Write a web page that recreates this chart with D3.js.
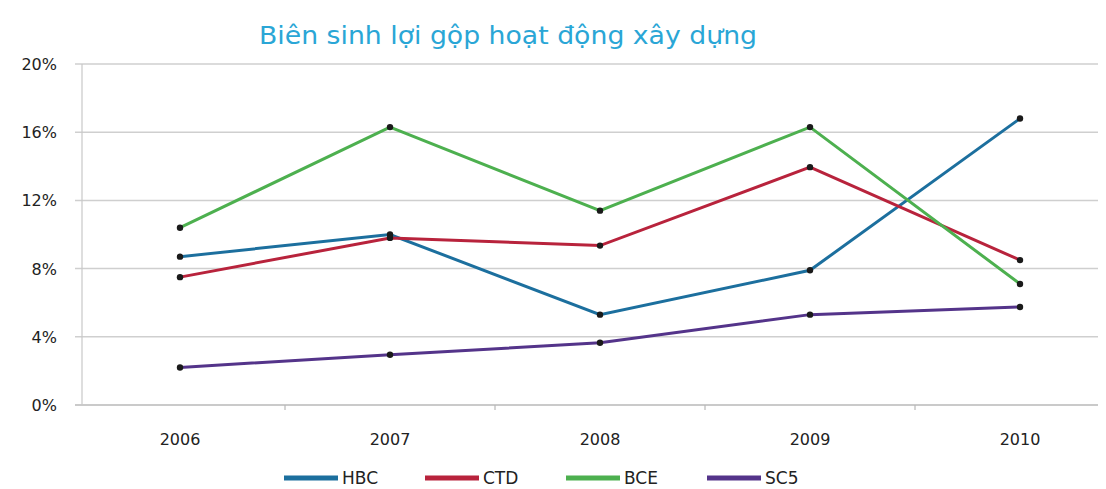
<!DOCTYPE html>
<html>
<head>
<meta charset="utf-8">
<script src="https://cdn.jsdelivr.net/npm/d3@7"></script>
<style>
  body { margin: 0; background: #fff; }
  svg { display: block; }
  text { font-family: "DejaVu Sans", sans-serif; }
</style>
</head>
<body>
<svg id="chart" width="1106" height="489"></svg>
<script>
// data (percent)
var years = ["2006", "2007", "2008", "2009", "2010"];
var seriesNames = ["HBC", "CTD", "BCE", "SC5"];
var hbc = [8.7, 10.0, 5.3, 7.9, 16.8];
var ctd = [7.5, 9.8, 9.35, 13.95, 8.5];
var bce = [10.4, 16.3, 11.4, 16.3, 7.1];
var sc5 = [2.2, 2.95, 3.65, 5.3, 5.75];
var yTicks = [0, 4, 8, 12, 16, 20];
var colors = ["#1c6f9e", "#b8233c", "#4db04f", "#54348a"];
var title = "Biên sinh lợi gộp hoạt động xây dựng";

var series = [hbc, ctd, bce, sc5].map(function (vals, i) {
  return { name: seriesNames[i], color: colors[i], values: vals };
});

var svg = d3.select("#chart");

var plotLeft = 82, plotRight = 1098, plotTop = 64, plotBottom = 405;

var x = d3.scalePoint().domain(years).range([180, 1020]);
var y = d3.scaleLinear().domain([0, 20]).range([plotBottom, plotTop]);
var step = x.step();

// gridlines
svg.append("g")
  .selectAll("line")
  .data(yTicks)
  .enter().append("line")
    .attr("x1", 75)
    .attr("x2", plotRight)
    .attr("y1", function (d) { return y(d); })
    .attr("y2", function (d) { return y(d); })
    .attr("stroke", function (d) { return d === 0 ? "#b8b8b8" : "#cfcfcf"; })
    .attr("stroke-width", 1.5);

// y axis line
svg.append("line")
  .attr("x1", plotLeft).attr("x2", plotLeft)
  .attr("y1", plotTop).attr("y2", plotBottom)
  .attr("stroke", "#c8c8c8").attr("stroke-width", 1.2);

// y labels
svg.append("g")
  .selectAll("text")
  .data(yTicks)
  .enter().append("text")
    .attr("x", 57)
    .attr("y", function (d) { return y(d) + 6; })
    .attr("text-anchor", "end")
    .attr("font-size", 16)
    .attr("fill", "#222")
    .text(function (d) { return d + "%"; });

// x ticks between categories
var between = years.slice(1).map(function (yr) { return x(yr) - step / 2; });
svg.append("g")
  .selectAll("line")
  .data(between)
  .enter().append("line")
    .attr("x1", function (d) { return d; })
    .attr("x2", function (d) { return d; })
    .attr("y1", plotBottom)
    .attr("y2", plotBottom + 5)
    .attr("stroke", "#b8b8b8")
    .attr("stroke-width", 1.2);

// x labels
svg.append("g")
  .selectAll("text")
  .data(years)
  .enter().append("text")
    .attr("x", function (d) { return x(d); })
    .attr("y", 445)
    .attr("text-anchor", "middle")
    .attr("font-size", 16)
    .attr("fill", "#222")
    .text(function (d) { return d; });

// lines
var line = d3.line()
  .x(function (d, i) { return x(years[i]); })
  .y(function (d) { return y(d); });

svg.append("g")
  .selectAll("path")
  .data(series)
  .enter().append("path")
    .attr("d", function (d) { return line(d.values); })
    .attr("fill", "none")
    .attr("stroke", function (d) { return d.color; })
    .attr("stroke-width", 3);

// markers
series.forEach(function (s) {
  svg.append("g")
    .selectAll("circle")
    .data(s.values)
    .enter().append("circle")
      .attr("cx", function (d, i) { return x(years[i]); })
      .attr("cy", function (d) { return y(d); })
      .attr("r", 3.2)
      .attr("fill", "#1a1a1a");
});

// title
svg.append("text")
  .attr("x", 508)
  .attr("y", 44)
  .attr("text-anchor", "middle")
  .attr("font-size", 25)
  .attr("fill", "#2aa6d6")
  .attr("textLength", 498)
  .attr("lengthAdjust", "spacingAndGlyphs")
  .text(title);

// legend
var legend = svg.append("g")
  .selectAll("g")
  .data(series)
  .enter().append("g")
    .attr("transform", function (d, i) { return "translate(" + (284 + i * 141) + ",478)"; });

legend.append("line")
  .attr("x1", 0).attr("x2", 54)
  .attr("y1", 0).attr("y2", 0)
  .attr("stroke", function (d) { return d.color; })
  .attr("stroke-width", 5);

legend.append("text")
  .attr("x", 58)
  .attr("y", 6)
  .attr("font-size", 17)
  .attr("fill", "#222")
  .text(function (d) { return d.name; });
</script>
</body>
</html>
